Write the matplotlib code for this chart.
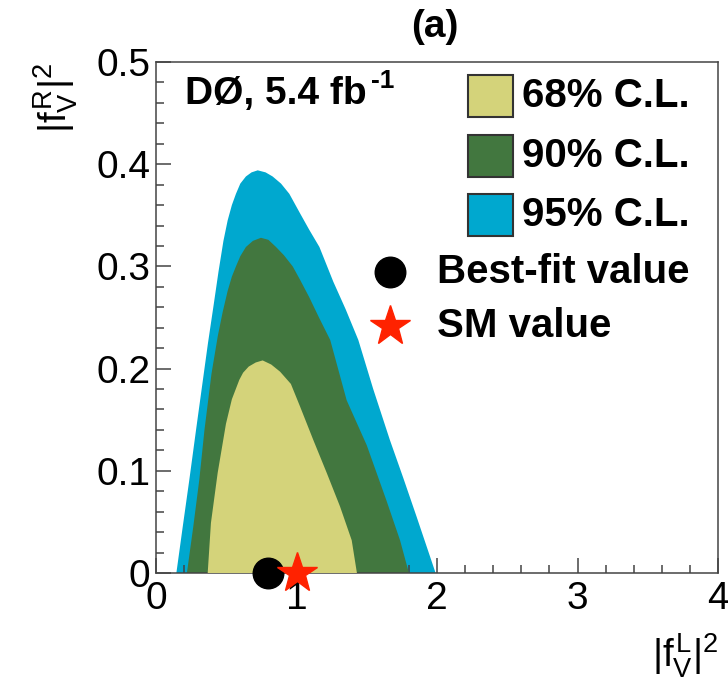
import matplotlib
matplotlib.use("Agg")
import matplotlib.pyplot as plt
from matplotlib.patches import Rectangle
from matplotlib.ticker import MultipleLocator

plt.rcParams["font.family"] = ["Liberation Sans", "DejaVu Sans"]
plt.rcParams["mathtext.fontset"] = "custom"
plt.rcParams["mathtext.rm"] = "Liberation Sans"
plt.rcParams["mathtext.it"] = "Liberation Sans"
plt.rcParams["mathtext.bf"] = "Liberation Sans:bold"

# 95% C.L. contour (upper edge, closed along y = 0)
cl95_x = [0.145, 0.19, 0.237, 0.285, 0.335, 0.37, 0.41, 0.445, 0.48, 0.51, 0.54,
          0.569, 0.60, 0.64, 0.68, 0.724, 0.78, 0.83, 0.89, 0.949, 1.025, 1.09,
          1.163, 1.262, 1.35, 1.44, 1.546, 1.665, 1.76, 1.855, 1.99]
cl95_y = [0.0, 0.045, 0.091, 0.14, 0.19, 0.225, 0.262, 0.295, 0.325, 0.345, 0.360,
          0.371, 0.381, 0.388, 0.392, 0.394, 0.392, 0.388, 0.381, 0.371, 0.352, 0.336,
          0.319, 0.285, 0.258, 0.228, 0.18, 0.13, 0.093, 0.055, 0.0]

# 90% C.L. contour
cl90_x = [0.22, 0.265, 0.308, 0.345, 0.395, 0.44, 0.474, 0.51, 0.54, 0.569, 0.60,
          0.64, 0.69, 0.747, 0.80, 0.854, 0.91, 0.973, 1.025, 1.09, 1.16, 1.24,
          1.357, 1.5, 1.64, 1.737, 1.8]
cl90_y = [0.0, 0.045, 0.091, 0.14, 0.195, 0.232, 0.255, 0.276, 0.290, 0.300, 0.310,
          0.319, 0.325, 0.328, 0.326, 0.319, 0.311, 0.300, 0.287, 0.27, 0.25, 0.228,
          0.169, 0.125, 0.071, 0.032, 0.0]

# 68% C.L. contour
cl68_x = [0.368, 0.391, 0.439, 0.498, 0.54, 0.593, 0.62, 0.66, 0.71, 0.759, 0.82,
          0.883, 0.96, 1.025, 1.12, 1.215, 1.31, 1.393, 1.43]
cl68_y = [0.0, 0.049, 0.098, 0.146, 0.17, 0.189, 0.196, 0.202, 0.206, 0.208, 0.204,
          0.197, 0.185, 0.163, 0.13, 0.098, 0.065, 0.032, 0.0]

best_fit = (0.80, 0.0)
sm_value = (1.0, 0.0)

x_ticks = [0, 1, 2, 3, 4]
x_ticklabels = ["0", "1", "2", "3", "4"]
y_ticks = [0, 0.1, 0.2, 0.3, 0.4, 0.5]
y_ticklabels = ["0", "0.1", "0.2", "0.3", "0.4", "0.5"]

c68, c90, c95 = "#d4d37a", "#42773f", "#00a8cf"
frame = "#444444"

fig = plt.figure(figsize=(7.28, 6.85), dpi=100)
ax = fig.add_axes([156 / 728, 1 - 573 / 685, 562 / 728, 511 / 685])

ax.fill(cl95_x, cl95_y, color=c95, lw=0, zorder=1)
ax.fill(cl90_x, cl90_y, color=c90, lw=0, zorder=2)
ax.fill(cl68_x, cl68_y, color=c68, lw=0, zorder=3)

ax.plot(*best_fit, "o", color="black", markersize=22, clip_on=False, zorder=6)
ax.plot(*sm_value, "*", color="#ff2200", markersize=30, clip_on=False, zorder=7)

ax.set_xlim(0, 4)
ax.set_ylim(0, 0.5)
ax.set_xticks(x_ticks, x_ticklabels)
ax.set_yticks(y_ticks, y_ticklabels)
ax.xaxis.set_minor_locator(MultipleLocator(0.2))
ax.yaxis.set_minor_locator(MultipleLocator(0.02))
ax.tick_params(which="both", direction="in", colors=frame, labelcolor="black",
               labelsize=28, top=False, right=False, width=1.1)
ax.tick_params(which="major", length=11)
ax.tick_params(which="minor", length=6)
ax.tick_params(axis="x", pad=6)
ax.tick_params(axis="y", pad=4)
for s in ax.spines.values():
    s.set_color(frame)
    s.set_linewidth(1.1)

ax.set_ylabel(r"$|f^{R}_{V}|^{2}$", fontsize=28, loc="top")
ax.yaxis.set_label_coords(-0.135, 1.0)
ax.set_xlabel(r"$|f^{L}_{V}|^{2}$", fontsize=28, loc="right")
ax.xaxis.set_label_coords(1.0, -0.115)

ax.text(0.496, 1.068, "(a)", transform=ax.transAxes, fontsize=28,
        fontweight="bold", ha="center", va="center")
lumi = ax.text(0.052, 0.937, "DØ, 5.4 fb", transform=ax.transAxes,
               fontsize=28, fontweight="bold", ha="left", va="center")
ax.annotate("-1", xy=(1.0, 0.86), xycoords=lumi, xytext=(3, 0),
            textcoords="offset points", fontsize=19, fontweight="bold",
            ha="left", va="center")

# legend
entries = [("68% C.L.", c68, 0.933), ("90% C.L.", c90, 0.816), ("95% C.L.", c95, 0.701)]
for label, col, yc in entries:
    ax.add_patch(Rectangle((0.555, yc - 0.041), 0.080, 0.082, transform=ax.transAxes,
                           facecolor=col, edgecolor="#333333", lw=1.5, zorder=8))
    ax.text(0.651, yc, label, transform=ax.transAxes, fontsize=29,
            fontweight="bold", ha="left", va="center")

ax.plot(0.416, 0.589, "o", color="black", markersize=22, transform=ax.transAxes,
        clip_on=False)
ax.text(0.5, 0.589, "Best-fit value", transform=ax.transAxes, fontsize=29,
        fontweight="bold", ha="left", va="center")
ax.plot(0.416, 0.483, "*", color="#ff2200", markersize=30, transform=ax.transAxes,
        clip_on=False)
ax.text(0.5, 0.483, "SM value", transform=ax.transAxes, fontsize=29,
        fontweight="bold", ha="left", va="center")

fig.savefig("out.png", dpi=100)
